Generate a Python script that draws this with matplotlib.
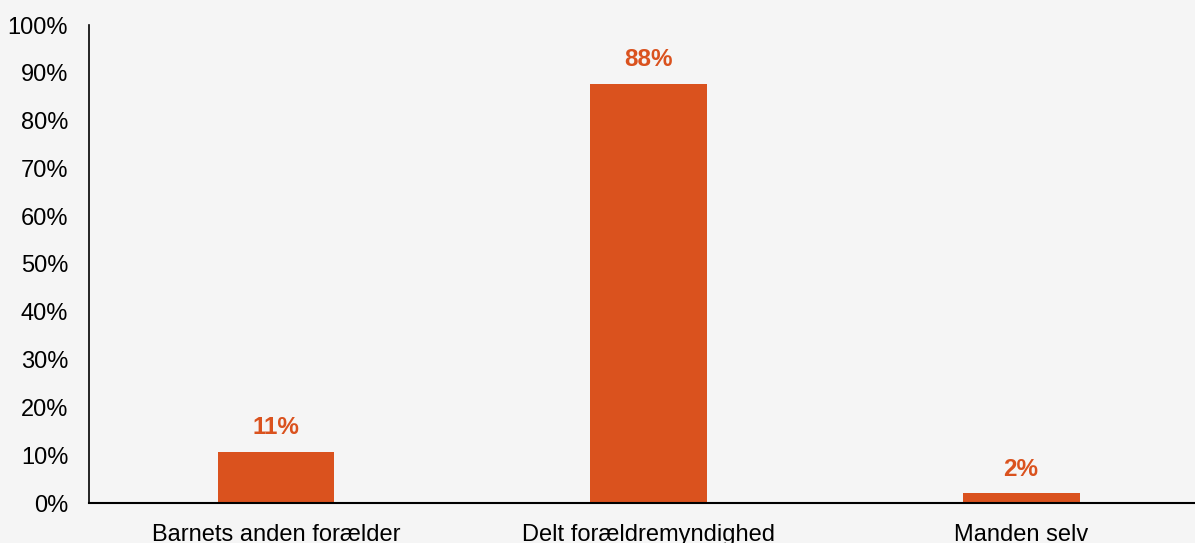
import matplotlib
matplotlib.use("Agg")
import matplotlib.pyplot as plt
from matplotlib.ticker import MultipleLocator, FuncFormatter

categories = ["Barnets anden forælder", "Delt forældremyndighed", "Manden selv"]
values = [0.107, 0.877, 0.021]

BG = "#f5f5f5"
BAR = "#da521e"

plt.rcParams['font.family'] = ['Liberation Sans', 'DejaVu Sans']

W, H = 1195, 543
fig = plt.figure(figsize=(W/100, H/100), dpi=100, facecolor=BG)
ax = fig.add_axes([89/W, (H-503)/H, (W-89)/W, (503-25)/H], facecolor=BG)

x = list(range(len(categories)))
ax.bar(x, values, width=0.314, color=BAR, zorder=2)
for xi, v in zip(x, values):
    ax.text(xi, v + 0.026, f"{round(v*100):.0f}%", ha="center", va="bottom",
            color=BAR, fontsize=17.5, fontweight="bold")

ax.set_ylim(0, 1.0)
ax.set_xlim(-0.502, 2.467)
ax.yaxis.set_major_locator(MultipleLocator(0.1))
ax.yaxis.set_major_formatter(FuncFormatter(lambda v, p: f"{round(v*100):.0f}%"))
ax.set_xticks(x)
ax.set_xticklabels(categories)
ax.tick_params(axis="both", length=0, labelsize=17, colors="black")
ax.tick_params(axis="y", pad=15)
ax.tick_params(axis="x", pad=15)
for s in ["top", "right"]:
    ax.spines[s].set_visible(False)
ax.spines["left"].set_linewidth(1.2)
ax.spines["bottom"].set_linewidth(1.5)

fig.savefig("out.png", dpi=100, facecolor=BG)
